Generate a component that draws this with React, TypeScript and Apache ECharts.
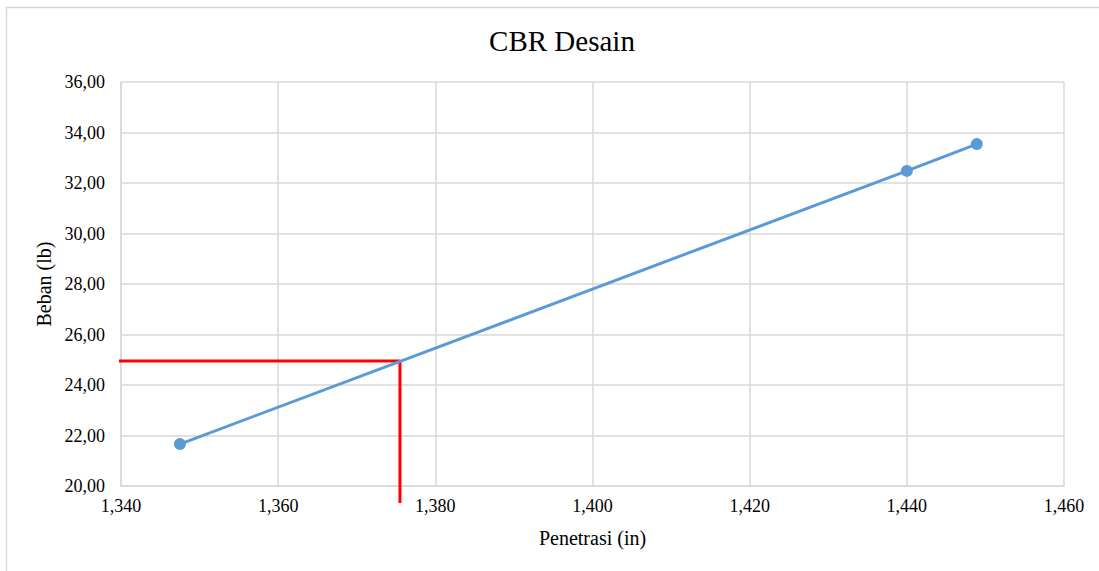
import React, { useEffect, useRef } from "react";
import * as echarts from "echarts";

const penetrasi = [1.3475, 1.44, 1.4489];
const beban = [21.66, 32.48, 33.54];
const designX = 1.3755;
const designY = 24.95;
const guideStartX = 1.3392;
const guideEndY = 19.33;
const xTicks = { min: 1.34, max: 1.46, interval: 0.02 };
const yTicks = { min: 20, max: 36, interval: 2 };

const FONT = "'Liberation Serif', 'Times New Roman', serif";

export default function App() {
  const ref = useRef<HTMLDivElement>(null);
  useEffect(() => {
    if (!ref.current) return;
    const chart = echarts.init(ref.current, undefined, { renderer: "svg" });
    chart.setOption({
      animation: false,
      backgroundColor: "#fff",
      textStyle: { fontFamily: FONT },
      title: {
        text: "CBR Desain",
        left: 557,
        top: 21,
        textAlign: "center",
        textStyle: { fontFamily: FONT, fontSize: 29, fontWeight: "normal", color: "#000" },
      },
      graphic: [
        { type: "line", shape: { x1: 6, y1: 7.5, x2: 1099, y2: 7.5 }, style: { stroke: "#d9d9d9", lineWidth: 1.5 } },
        { type: "line", shape: { x1: 6.5, y1: 7, x2: 6.5, y2: 571 }, style: { stroke: "#d9d9d9", lineWidth: 1.5 } },
      ],
      grid: { left: 121, right: 35, top: 82, bottom: 85 },
      xAxis: {
        type: "value",
        min: xTicks.min,
        max: xTicks.max,
        interval: xTicks.interval,
        name: "Penetrasi (in)",
        nameLocation: "middle",
        nameGap: 42,
        nameTextStyle: { fontFamily: FONT, fontSize: 20, color: "#000" },
        axisLine: { show: true, lineStyle: { color: "#d9d9d9", width: 1.5 } },
        axisTick: { show: false },
        axisLabel: {
          fontFamily: FONT,
          fontSize: 18,
          color: "#000",
          margin: 11,
          formatter: (v: number) => v.toFixed(3).replace(".", ","),
        },
        splitLine: { show: true, lineStyle: { color: "#d9d9d9", width: 1.5 } },
      },
      yAxis: {
        type: "value",
        min: yTicks.min,
        max: yTicks.max,
        interval: yTicks.interval,
        name: "Beban (lb)",
        nameLocation: "middle",
        nameGap: 66,
        nameTextStyle: { fontFamily: FONT, fontSize: 20, color: "#000" },
        axisLine: { show: true, lineStyle: { color: "#d9d9d9", width: 1.5 } },
        axisTick: { show: false },
        axisLabel: {
          fontFamily: FONT,
          fontSize: 18,
          color: "#000",
          margin: 16,
          formatter: (v: number) => v.toFixed(2).replace(".", ","),
        },
        splitLine: { show: true, lineStyle: { color: "#d9d9d9", width: 1.5 } },
      },
      series: [
        {
          type: "line",
          data: penetrasi.map((x, i) => [x, beban[i]]),
          symbol: "circle",
          symbolSize: 12,
          itemStyle: { color: "#5b9bd5" },
          lineStyle: { color: "#5b9bd5", width: 3 },
        },
        {
          type: "line",
          clip: false,
          data: [
            [guideStartX, designY],
            [designX, designY],
            [designX, guideEndY],
          ],
          symbol: "none",
          lineStyle: { color: "#ff0000", width: 3 },
          z: 1,
        },
      ],
    });
    return () => chart.dispose();
  }, []);
  return (
    <div
      ref={ref}
      style={{ position: "fixed", left: 0, top: 0, width: 1099, height: 571 }}
    />
  );
}
